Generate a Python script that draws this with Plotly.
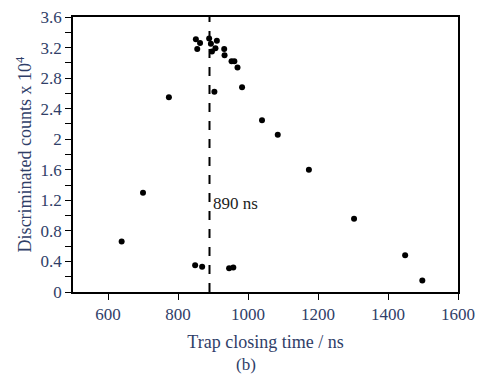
import plotly.graph_objects as go

# trap closing time (ns) and discriminated counts (x 10^4)
time_ns = [851, 863, 855, 889, 894, 911, 907, 897, 932, 933, 953, 961, 970, 983,
           904, 774, 1040, 1085, 1174, 700, 1303, 639, 1449, 1498, 849, 869, 946, 958]
counts = [3.31, 3.26, 3.18, 3.32, 3.25, 3.29, 3.19, 3.15, 3.18, 3.10, 3.02, 3.02, 2.94, 2.68,
          2.62, 2.55, 2.25, 2.06, 1.60, 1.30, 0.96, 0.66, 0.48, 0.15, 0.35, 0.33, 0.31, 0.32]
optimum_ns = 890

text_col = "#2f3e68"
font = "Liberation Serif, Times New Roman, serif"

fig = go.Figure()
fig.add_trace(go.Scatter(x=time_ns, y=counts, mode="markers",
                         marker=dict(color="black", size=6), showlegend=False))
fig.add_shape(type="line", x0=optimum_ns, x1=optimum_ns, y0=0, y1=1,
              xref="x", yref="y domain",
              line=dict(color="black", width=2, dash="dash"))
fig.add_annotation(x=optimum_ns, y=1.16, text="890 ns", xref="x", yref="y",
                   showarrow=False, xanchor="left", xshift=1,
                   font=dict(family=font, size=17, color="#222222"))
fig.add_annotation(x=0.449, y=-0.265, xref="paper", yref="paper", text="(b)",
                   showarrow=False, yanchor="middle",
                   font=dict(family=font, size=17, color=text_col))

fig.update_layout(
    width=477, height=375,
    margin=dict(l=73, r=19, t=17, b=83),
    plot_bgcolor="white", paper_bgcolor="white",
    font=dict(family=font, size=17, color=text_col),
    xaxis=dict(range=[500, 1600], dtick=200, tick0=600, ticks="outside", ticklen=6,
               tickcolor="black", showline=True, linecolor="black", linewidth=1.5,
               mirror=True, showgrid=False, zeroline=False, automargin=False,
               ticklabeloverflow="allow",
               title=dict(text="Trap closing time / ns", standoff=12,
                          font=dict(size=18))),
    yaxis=dict(range=[0, 3.6], dtick=0.4, tick0=0, ticks="outside", ticklen=6,
               tickcolor="black", showline=True, linecolor="black", linewidth=1.5,
               mirror=True, showgrid=False, zeroline=False, automargin=False,
               ticklabeloverflow="allow",
               minor=dict(dtick=0.2, ticks="outside", ticklen=6, tickcolor="black"),
               title=dict(text="Discriminated counts x 10<sup>4</sup>", standoff=4,
                          font=dict(size=18))),
)

# drop the default page margin so the 477x375 figure fills the window
fig.write_html("out.html", config={"displayModeBar": False},
               post_script="document.body.style.margin='0';")
